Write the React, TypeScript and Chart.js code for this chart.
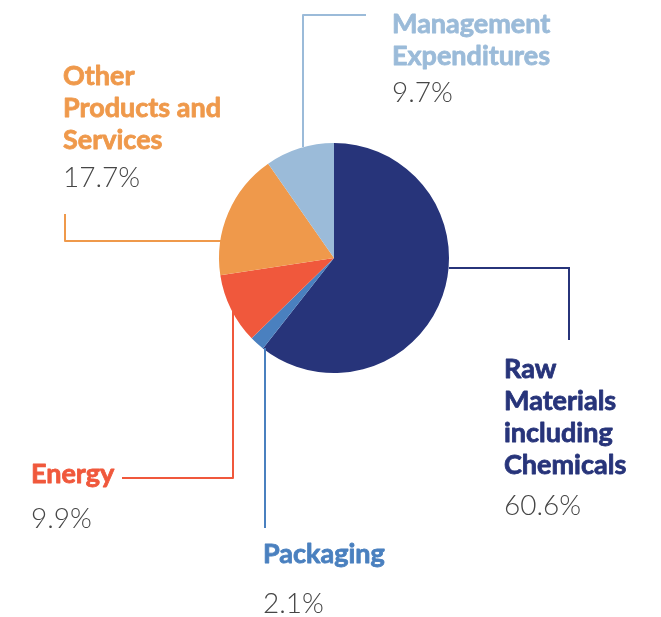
import React, { useEffect, useRef } from "react";
import { Chart, registerables } from "chart.js";

Chart.register(...registerables);

const categories = [
  "Raw Materials including Chemicals",
  "Packaging",
  "Energy",
  "Other Products and Services",
  "Management Expenditures",
];
const values = [60.6, 2.1, 9.9, 17.7, 9.7];
const percentLabels = ["60.6%", "2.1%", "9.9%", "17.7%", "9.7%"];
const labelLines = [
  ["Raw", "Materials", "including", "Chemicals"],
  ["Packaging"],
  ["Energy"],
  ["Other", "Products and", "Services"],
  ["Management", "Expenditures"],
];
const colors = ["#27347A", "#4A80BF", "#F0583C", "#EF994B", "#9BBBD9"];

// layout of callouts (relative to pie centre, in px)
type Callout = {
  line: [number, number][];
  textX: number;
  baseY: number;
  pctY: number;
};
const callouts: Callout[] = [
  { line: [[115, 10], [235, 10], [235, 82]], textX: 170, baseY: 120, pctY: 257 },
  { line: [[-69, 90], [-69, 270]], textX: -71, baseY: 305, pctY: 355 },
  { line: [[-101, 52], [-101, 220], [-212, 220]], textX: -303, baseY: 225, pctY: 270 },
  { line: [[-113, -17], [-269, -17], [-269, -44]], textX: -271, baseY: -173, pctY: -71 },
  { line: [[-31, -111], [-31, -243], [32, -243]], textX: 58, baseY: -225, pctY: -156 },
];

const BOLD = "bold 27px Lato, 'Open Sans', sans-serif";
const LIGHT = "300 28px Lato, 'Open Sans', sans-serif";

const calloutPlugin = {
  id: "callouts",
  afterDraw(chart: any) {
    const ctx = chart.ctx;
    const meta = chart.getDatasetMeta(0);
    const arc = meta.data[0];
    if (!arc) return;
    const cx = arc.x;
    const cy = arc.y;
    ctx.save();
    callouts.forEach((c, i) => {
      ctx.strokeStyle = colors[i];
      ctx.lineWidth = 2;
      ctx.beginPath();
      c.line.forEach(([dx, dy], k) => {
        if (k === 0) ctx.moveTo(cx + dx, cy + dy);
        else ctx.lineTo(cx + dx, cy + dy);
      });
      ctx.stroke();
      ctx.textAlign = "left";
      ctx.textBaseline = "alphabetic";
      ctx.fillStyle = colors[i];
      ctx.font = BOLD;
      ctx.lineWidth = 0.8;
      ctx.lineJoin = "round";
      labelLines[i].forEach((t, k) => {
        const y = cy + c.baseY + k * 32;
        ctx.fillText(t, cx + c.textX, y);
        ctx.strokeText(t, cx + c.textX, y);
      });
      ctx.fillStyle = "#464646";
      ctx.font = LIGHT;
      ctx.fillText(percentLabels[i], cx + c.textX, cy + c.pctY);
    });
    ctx.restore();
  },
};

export default function App() {
  const ref = useRef<HTMLCanvasElement>(null);
  useEffect(() => {
    document.body.style.margin = "0";
    const chart = new Chart(ref.current!, {
      type: "pie",
      data: {
        labels: categories,
        datasets: [
          {
            data: values,
            backgroundColor: colors,
            borderWidth: 0,
          },
        ],
      },
      options: {
        responsive: false,
        animation: false,
        layout: { padding: { left: 219, right: 212, top: 143, bottom: 244 } },
        plugins: {
          legend: { display: false },
          tooltip: { enabled: false },
        },
      },
      plugins: [calloutPlugin],
    });
    return () => chart.destroy();
  }, []);
  return (
    <div style={{ width: 661, height: 617, background: "#fff" }}>
      <canvas ref={ref} width={661} height={617} />
    </div>
  );
}
